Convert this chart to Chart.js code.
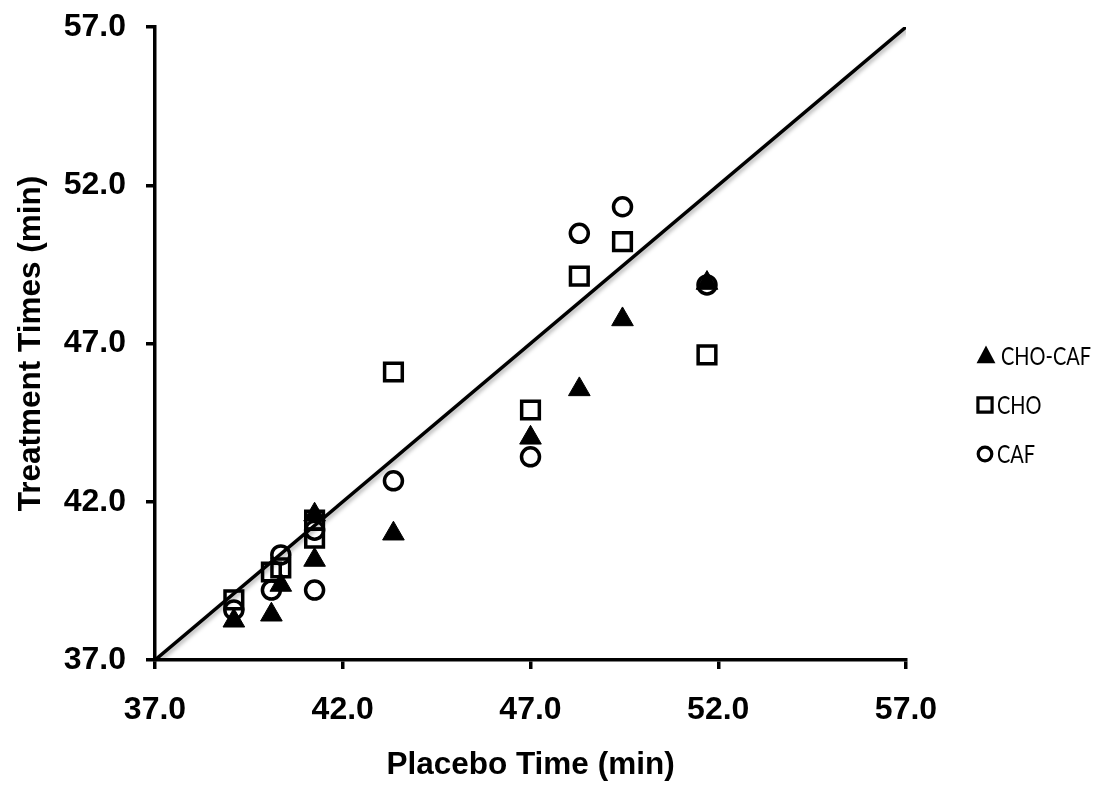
<!DOCTYPE html>
<html>
<head>
<meta charset="utf-8">
<script src="https://cdn.jsdelivr.net/npm/chart.js@4.4.1/dist/chart.umd.min.js"></script>
<style>
  html, body { margin: 0; padding: 0; background: #fff; }
  #wrap { width: 1102px; height: 785px; }
</style>
</head>
<body>
<div id="wrap"><canvas id="c" width="1102" height="785"></canvas></div>
<script>
// ---- data ----
const placeboTime = [39.1, 40.1, 40.35, 41.25, 41.25, 43.35, 47.0, 48.3, 49.45, 51.7];
const choCaf      = [38.24, 38.43, 39.37, 41.59, 40.16, 40.99, 44.02, 45.55, 47.76, 48.91];
const cho         = [38.9, 39.78, 39.91, 41.42, 40.85, 46.1, 44.9, 49.13, 50.22, 46.64];
const caf         = [38.58, 39.21, 40.32, 41.1, 39.21, 42.66, 43.42, 50.48, 51.32, 48.85];
const identityX   = [37, 57];
const identityY   = [37, 57];
const axisMin = 37, axisMax = 57, axisStep = 5;
const seriesLabels = ['CHO-CAF', 'CHO', 'CAF'];

function pts(xs, ys) { return xs.map((x, i) => ({ x: x, y: ys[i] })); }

const legendFont = "25px Lato, 'Open Sans', sans-serif";

const legendPlugin = {
  id: 'sideLegend',
  afterDraw(chart) {
    const ctx = chart.ctx;
    const items = [
      { ds: 0, mx: 986, my: 356, tx: 1001, r: 10.5 },
      { ds: 1, mx: 985, my: 405, tx: 997, r: 10 },
      { ds: 2, mx: 985, my: 454, tx: 997, r: 6.8 }
    ];
    ctx.save();
    ctx.font = legendFont;
    const sx = 90 / ctx.measureText(seriesLabels[0]).width;
    items.forEach(it => {
      const d = chart.data.datasets[it.ds];
      ctx.beginPath();
      ctx.lineWidth = 3.2;
      ctx.strokeStyle = d.pointBorderColor;
      ctx.fillStyle = d.pointBackgroundColor;
      if (d.pointStyle === 'triangle') {
        const r = it.r;
        ctx.moveTo(it.mx, it.my - r);
        ctx.lineTo(it.mx + r * 0.9, it.my + r * 0.68);
        ctx.lineTo(it.mx - r * 0.9, it.my + r * 0.68);
        ctx.closePath();
        ctx.fill();
      } else if (d.pointStyle === 'rect') {
        const s = it.r * Math.SQRT1_2;
        ctx.rect(it.mx - s, it.my - s, 2 * s, 2 * s);
        ctx.stroke();
      } else {
        ctx.arc(it.mx, it.my, it.r, 0, Math.PI * 2);
        ctx.stroke();
      }
      ctx.save();
      ctx.fillStyle = '#000';
      ctx.font = legendFont;
      ctx.textAlign = 'left';
      ctx.textBaseline = 'middle';
      ctx.translate(it.tx, it.my + 1);
      ctx.scale(sx, 1);
      ctx.fillText(d.label, 0, 0);
      ctx.restore();
    });
    ctx.restore();
  }
};

const shadowPlugin = {
  id: 'lineShadow',
  beforeDatasetDraw(chart, args) {
    if (chart.data.datasets[args.index].isIdentity) {
      const ctx = chart.ctx;
      ctx.save();
      ctx.shadowColor = 'rgba(0,0,0,0.35)';
      ctx.shadowBlur = 4;
      ctx.shadowOffsetX = 2;
      ctx.shadowOffsetY = 2;
    }
  },
  afterDatasetDraw(chart, args) {
    if (chart.data.datasets[args.index].isIdentity) chart.ctx.restore();
  }
};

const tickFont = { family: "'Liberation Sans', Arial, sans-serif", size: 32, weight: 'bold' };
const titleFont = { family: "'Liberation Sans', Arial, sans-serif", size: 31.5, weight: 'bold' };

new Chart(document.getElementById('c'), {
  type: 'scatter',
  data: {
    datasets: [
      {
        label: seriesLabels[0], data: pts(placeboTime, choCaf),
        pointStyle: 'triangle', pointRadius: 12.5, pointHoverRadius: 12.5,
        pointBackgroundColor: '#000', pointBorderColor: '#000', pointBorderWidth: 1
      },
      {
        label: seriesLabels[1], data: pts(placeboTime, cho),
        pointStyle: 'rect', pointRadius: 12.5, pointHoverRadius: 12.5,
        pointBackgroundColor: 'rgba(0,0,0,0)', pointBorderColor: '#000', pointBorderWidth: 3.5
      },
      {
        label: seriesLabels[2], data: pts(placeboTime, caf),
        pointStyle: 'circle', pointRadius: 9, pointHoverRadius: 9,
        pointBackgroundColor: 'rgba(0,0,0,0)', pointBorderColor: '#000', pointBorderWidth: 3.5
      },
      {
        label: 'identity', isIdentity: true, type: 'line', data: pts(identityX, identityY),
        borderColor: '#000', borderWidth: 3.5, pointRadius: 0, fill: false, showLine: true
      }
    ]
  },
  options: {
    responsive: false,
    animation: false,
    events: [],
    layout: { padding: { left: 0, right: 196, top: 27, bottom: 0 } },
    plugins: {
      legend: { display: false },
      tooltip: { enabled: false }
    },
    scales: {
      x: {
        type: 'linear', min: axisMin, max: axisMax,
        afterFit(scale) { scale.height = 125; scale.paddingLeft = 0; scale.paddingRight = 0; },
        ticks: {
          stepSize: axisStep, color: '#000', font: tickFont, padding: 22,
          callback: v => v.toFixed(1)
        },
        grid: { drawOnChartArea: false, drawTicks: true, tickLength: 9, color: '#000', lineWidth: 3.5 },
        border: { display: true, color: '#000', width: 3.5 },
        title: { display: true, text: 'Placebo Time (min)', color: '#000', font: titleFont, padding: { top: 0, bottom: 1 } }
      },
      y: {
        type: 'linear', min: axisMin, max: axisMax,
        afterFit(scale) { scale.width = 155; scale.paddingTop = 0; scale.paddingBottom = 0; },
        ticks: {
          stepSize: axisStep, color: '#000', font: tickFont, padding: 20,
          callback: v => v.toFixed(1)
        },
        grid: { drawOnChartArea: false, drawTicks: true, tickLength: 9, color: '#000', lineWidth: 3.5 },
        border: { display: true, color: '#000', width: 3.5 },
        title: { display: true, text: 'Treatment Times (min)', color: '#000', font: titleFont, padding: { top: 12, bottom: 0 } }
      }
    }
  },
  plugins: [legendPlugin, shadowPlugin]
});
</script>
</body>
</html>
